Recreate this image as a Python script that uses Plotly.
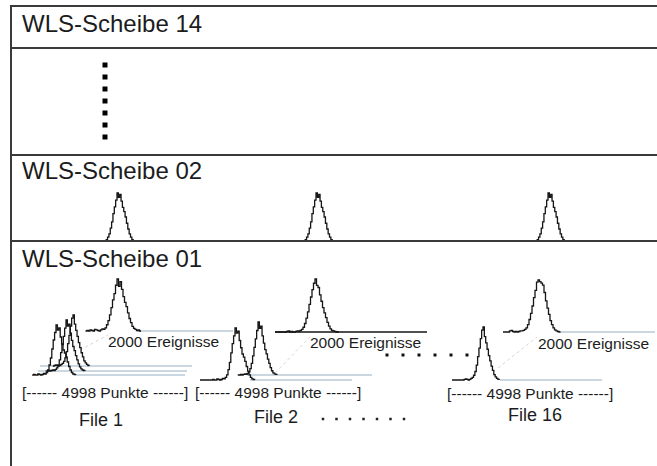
import plotly.graph_objects as go

# ---------------- data ----------------
section_titles = ["WLS-Scheibe 14", "WLS-Scheibe 02", "WLS-Scheibe 01"]
file_labels = ["File 1", "File 2", "File 16"]
events_label = "2000 Ereignisse"
points_label = "[------ 4998 Punkte ------]"

# histogram counts (relative, peak = 100)
scheibe02_peak = [0, 3, 8, 15, 27, 40, 57, 71, 85, 100, 91, 97, 83, 70, 61, 50, 37, 25, 15, 8, 3, 0]
events_peak_file1 = [0, 1, 0, 2, 1, 0, 3, 2, 1, 0, 2, 4, 3, 6, 12, 20, 31, 45, 60, 72, 88, 100, 86, 95,
                     80, 66, 55, 47, 35, 24, 16, 9, 5, 3, 1, 2, 0, 0]
events_peak_file2 = [0, 0, 1, 2, 0, 1, 0, 0, 1, 2, 1, 3, 5, 9, 16, 26, 38, 52, 66, 80, 92, 100, 88, 84,
                     70, 58, 46, 36, 27, 18, 11, 6, 3, 2, 1, 0, 0, 0]
events_peak_file16 = [0, 2, 3, 1, 0, 1, 0, 1, 2, 2, 3, 5, 8, 14, 24, 36, 50, 66, 80, 96, 100, 97, 94, 90,
                      76, 60, 46, 34, 22, 14, 8, 4, 2, 1, 0, 0]
points_peak_a = [0, 1, 0, 0, 2, 1, 0, 1, 3, 2, 5, 10, 20, 34, 52, 70, 85, 100, 90, 94, 76, 62, 50, 44,
                 36, 26, 17, 10, 5, 2, 1, 0]
points_peak_b = [0, 0, 1, 0, 1, 2, 1, 3, 6, 12, 22, 36, 52, 68, 84, 100, 88, 92, 74, 60, 48, 40, 30, 22,
                 14, 8, 4, 2, 1, 0]
points_peak_c = [0, 1, 2, 1, 0, 1, 3, 5, 9, 16, 28, 44, 60, 78, 94, 100, 82, 70, 58, 46, 36, 26, 18, 10,
                 6, 3, 1, 0]

# ---------------- layout / placement (pixel-like coordinates) ----------------
W, H = 657, 466
FONT = "Liberation Sans, Arial, Helvetica, sans-serif"
TXT = "#1c1c1c"
FRAME = "#3a3a3a"
BLUE = "#98b0c2"
BLACK = "#151515"

fig = go.Figure()


def peak_index(counts):
    return counts.index(max(counts))


def add_hist(counts, center, dx, base, top, lead=None):
    x0 = center - peak_index(counts) * dx
    xs, ys = [], []
    if lead is not None:
        xs.append(lead)
        ys.append(base)
    for i, c in enumerate(counts):
        xs.append(x0 + i * dx)
        ys.append(base - c * (base - top) / 100.0)
    fig.add_trace(go.Scatter(x=xs, y=ys, mode="lines", line=dict(color=BLACK, width=1.3, shape="hv"),
                             hoverinfo="skip", showlegend=False))


def add_line(x0, x1, y0, y1, color, width=1, dash="solid"):
    fig.add_trace(go.Scatter(x=[x0, x1], y=[y0, y1], mode="lines",
                             line=dict(color=color, width=width, dash=dash),
                             hoverinfo="skip", showlegend=False))


# frame
shapes = [dict(type="line", x0=11, x1=11, y0=5, y1=H, line=dict(color=FRAME, width=2))]
for yy in [6, 48, 155, 241]:
    shapes.append(dict(type="line", x0=10, x1=W, y0=yy, y1=yy, line=dict(color=FRAME, width=2)))

# vertical ellipsis in section 14
n_vdots = 7
fig.add_trace(go.Scatter(x=[105] * n_vdots, y=[65 + 12 * i for i in range(n_vdots)], mode="markers",
                         marker=dict(symbol="square", size=5, color="#000"),
                         hoverinfo="skip", showlegend=False))

# section 02 peaks
for c in [117, 316, 548]:
    add_hist(scheibe02_peak, c, 1.35, 241, 193)

# blue baselines (under histograms)
blue_lines = [
    (137, 233, 331),
    (40, 192, 366), (38, 187, 371), (75, 185, 375),
    (247, 372, 375), (250, 352, 380),
    (560, 655, 332), (500, 602, 380),
]
for a, b, y in blue_lines:
    add_line(a, b, y, y, BLUE)

# black baseline of File 2 events
add_line(275, 427, 332, 332, BLACK, 1.3)

# faint dotted connectors
for (xa, ya, xb, yb) in [(80, 350, 108, 335), (275, 373, 310, 337), (498, 368, 537, 337)]:
    add_line(xa, xb, ya, yb, "#d6d6d6", 1, "dot")

# File 1
add_hist(events_peak_file1, 117, 1.5, 331, 279)
add_hist(points_peak_c, 73, 1.35, 366, 315)
add_hist(points_peak_b, 66, 1.35, 371, 320)
add_hist(points_peak_a, 56, 1.4, 375, 325)
# File 2
add_hist(events_peak_file2, 315, 1.5, 332, 279, lead=275)
add_hist(points_peak_b, 258, 1.35, 375, 322)
add_hist(points_peak_a, 235, 1.4, 380, 328, lead=200)
# File 16
add_hist(events_peak_file16, 538, 1.5, 332, 280, lead=503)
add_hist(points_peak_c, 483, 1.35, 380, 327, lead=452)

# horizontal ellipses
n_mid = 6
fig.add_trace(go.Scatter(x=[387 + 16 * i for i in range(n_mid)], y=[355] * n_mid, mode="markers",
                         marker=dict(symbol="square", size=3, color="#111"),
                         hoverinfo="skip", showlegend=False))
n_low = 7
fig.add_trace(go.Scatter(x=[323 + 13.5 * i for i in range(n_low)], y=[419] * n_low, mode="markers",
                         marker=dict(symbol="square", size=2.5, color="#222"),
                         hoverinfo="skip", showlegend=False))

annotations = []


def label(text, x, y, size):
    annotations.append(dict(text=text, x=x, y=y, xref="x", yref="y", xanchor="left", yanchor="middle",
                            showarrow=False, borderpad=0, font=dict(family=FONT, size=size, color=TXT)))


for t, y in zip(section_titles, [23, 170, 258]):
    label(t, 21, y, 24)
for x, y in [(107, 341), (309, 342), (537, 343)]:
    label(events_label, x, y, 15.5)
for x, y in [(21, 392), (194, 392), (446, 393)]:
    label(points_label, x, y, 15.5)
for t, (x, y) in zip(file_labels, [(78, 420), (253, 417), (507, 415)]):
    label(t, x, y, 18)

fig.update_layout(
    width=W, height=H, margin=dict(l=0, r=0, t=0, b=0),
    paper_bgcolor="white", plot_bgcolor="white",
    xaxis=dict(range=[0, W], visible=False, fixedrange=True),
    yaxis=dict(range=[H, 0], visible=False, fixedrange=True),
    shapes=shapes, annotations=annotations, showlegend=False,
)

fig.write_html("out.html", config={"displayModeBar": False},
               post_script="document.body.style.margin='0';")
